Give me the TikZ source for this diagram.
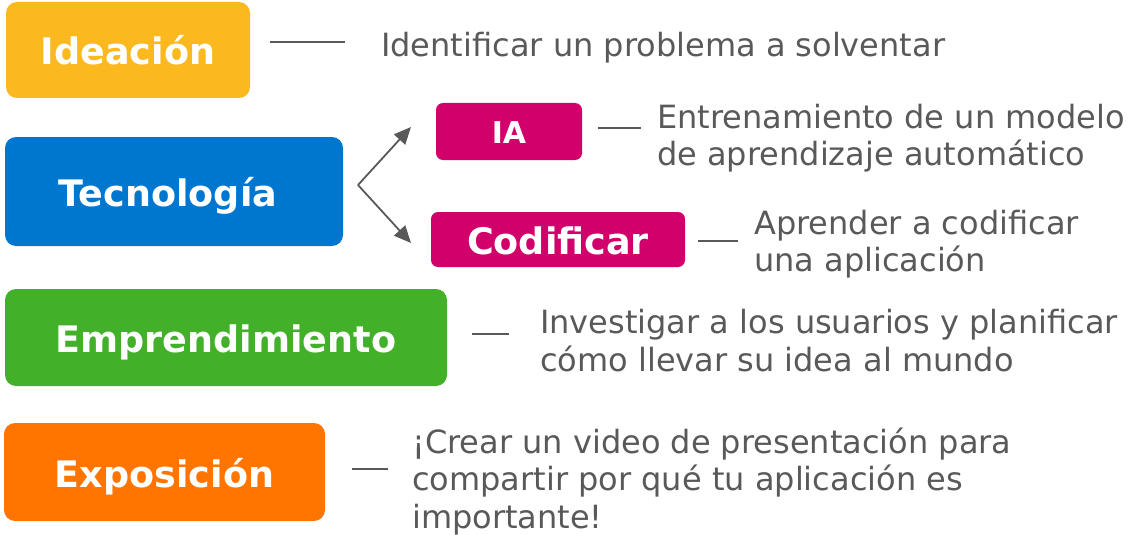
\documentclass[tikz,border=0pt]{standalone}
\usepackage{fontspec}
\setmainfont{DejaVu Sans}
\usetikzlibrary{arrows.meta}
\definecolor{cyellow}{HTML}{FBB81F}
\definecolor{cblue}{HTML}{0077CF}
\definecolor{cmag}{HTML}{D1006B}
\definecolor{cgreen}{HTML}{43B02A}
\definecolor{corange}{HTML}{FF7500}
\definecolor{cgray}{HTML}{595959}
\begin{document}
\begin{tikzpicture}[x=1pt,y=-1pt,
  catbox/.style={rounded corners=11pt, text=white, inner sep=0pt,
    text height=30pt, text depth=0pt,
    font=\fontsize{36.5}{40}\selectfont\bfseries},
  subbox/.style={rounded corners=7pt, text=white, inner sep=0pt,
    text height=30pt, text depth=0pt,
    font=\fontsize{36.5}{40}\selectfont\bfseries},
  desc/.style={text=cgray, inner sep=0pt, align=left, anchor=base west,
    font=\fontsize{32}{37.5}\selectfont},
  conn/.style={draw=cgray, line width=2pt},
  arr/.style={draw=cgray, line width=1.8pt, -{Triangle[length=17pt,width=15pt]}}]
\useasboundingbox (0,0) rectangle (1128,535);
% category boxes
\node[catbox, fill=cyellow, minimum width=244, minimum height=96] (ide) at (128,50) {Ideación};
\node[catbox, fill=cblue, minimum width=338, minimum height=109] (tec) at (174,191.5) {\hspace*{-12pt}Tecnología};
\node[catbox, fill=cgreen, minimum width=442, minimum height=97] (emp) at (226,337.5) {Emprendimiento};
\node[catbox, fill=corange, minimum width=321, minimum height=98] (exp) at (164.5,472) {Exposición};
% sub boxes
\node[subbox, fill=cmag, minimum width=146, minimum height=57, text height=23pt, font=\fontsize{30}{34}\selectfont\bfseries] (ia) at (509,131.5) {IA};
\node[subbox, fill=cmag, minimum width=254, minimum height=55] (cod) at (558,239.5) {Codificar};
% descriptions (base = baseline of last line)
\node[desc] (dide) at (381,57) {Identificar un problema a solventar};
\node[desc] (dia) at (657,165.5) {Entrenamiento de un modelo\\de aprendizaje automático};
\node[desc] (dcod) at (754,271.5) {Aprender a codificar\\una aplicación};
\node[desc] (demp) at (540,371) {Investigar a los usuarios y planificar\\cómo llevar su idea al mundo};
\node[desc] (dexp) at (412,528) {¡Crear un video de presentación para\\compartir por qué tu aplicación es\\importante!};
% connectors
\draw[conn] ([shift={(20,-8)}]ide.east) -- ++(75,0);
\draw[conn] ([shift={(16,-3.5)}]ia.east) -- ++(43,0);
\draw[conn] ([shift={(13,1.5)}]cod.east) -- ++(40,0);
\draw[conn] ([shift={(25,-3.5)}]emp.east) -- ++(37,0);
\draw[conn] ([shift={(27,-3)}]exp.east) -- ++(36,0);
% fork arrows
\coordinate (fork) at (358,185);
\coordinate (iatip) at (411,127);
\coordinate (codtip) at (411,243);
\draw[arr] (fork) -- (iatip);
\draw[arr] (fork) -- (codtip);
\end{tikzpicture}
\end{document}
